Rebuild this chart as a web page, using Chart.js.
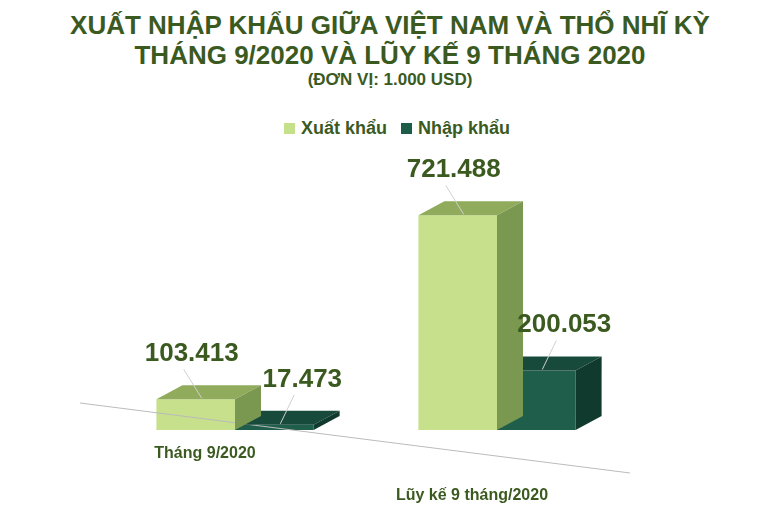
<!DOCTYPE html>
<html><head><meta charset="utf-8">
<script src="https://cdn.jsdelivr.net/npm/chart.js@4/dist/chart.umd.min.js"></script>
<style>
body{margin:0;background:#fff;font-family:"Liberation Sans",Arial,sans-serif}
#wrap{position:relative;width:780px;height:516px}
#t{position:absolute;top:10px;left:0;width:780px;text-align:center;color:#3b5a1f;font-weight:bold;font-size:26px;line-height:30px}
#t div.s{font-size:17px;line-height:20px}
#lg{position:absolute;top:118px;left:0;width:780px;text-align:center;color:#3b5a1f;font-weight:bold;font-size:18px}
#lg span.b{display:inline-block;width:11px;height:11px;margin:0 6px 0 14px}
canvas{position:absolute;top:0;left:0}
</style></head><body>
<div id="wrap">
<div id="t">XUẤT NHẬP KHẨU GIỮA VIỆT NAM VÀ THỔ NHĨ KỲ<br>THÁNG 9/2020 VÀ LŨY KẾ 9 THÁNG 2020<div class="s">(ĐƠN VỊ: 1.000 USD)</div></div>
<div id="lg"><span class="b" style="background:#c5e08a"></span>Xuất khẩu<span class="b" style="background:#1e5c4a"></span>Nhập khẩu</div>
<canvas id="c" width="780" height="516"></canvas>
</div>
<script>
const categories=["Tháng 9/2020","Lũy kế 9 tháng/2020"];
const exportVals=[103413,721488];
const importVals=[17473,200053];
const seriesNames=["Xuất khẩu","Nhập khẩu"];
const fmt=v=>v.toLocaleString('de-DE');
const faces=[{front:'#c6e08b',top:'#8fab5b',side:'#7b9850'},{front:'#1f5e4b',top:'#184a3b',side:'#113a2e'}];
const DX=26,DY=-14;
const threeD={id:'threeD',afterDatasetsDraw(ch){
 const g=ch.ctx;
 const xs=ch.scales.x;
 g.save();
 g.strokeStyle='#bbb';g.lineWidth=1;g.beginPath();g.moveTo(80,403);g.lineTo(630,473);g.stroke();
 [1,0].forEach(di=>{
  ch.getDatasetMeta(di).data.forEach((b,i)=>{
   const l=b.x-b.width/2,r=b.x+b.width/2,t=b.y,bt=b.base;
   const f=faces[di];
   g.fillStyle=f.top;g.beginPath();g.moveTo(l,t);g.lineTo(l+DX,t+DY);g.lineTo(r+DX,t+DY);g.lineTo(r,t);g.closePath();g.fill();
   g.fillStyle=f.side;g.beginPath();g.moveTo(r,t);g.lineTo(r+DX,t+DY);g.lineTo(r+DX,bt+DY);g.lineTo(r,bt);g.closePath();g.fill();
  });
 });
 g.font='bold 26px "Liberation Sans",Arial';g.textAlign='center';g.fillStyle='#3b5a1f';
 [0,1].forEach(di=>{
  ch.getDatasetMeta(di).data.forEach((b,i)=>{
   const v=ch.data.datasets[di].data[i];
   const lx=b.x-4+(di?32:0), ly=b.y+DY-24;
   g.fillText(fmt(v),lx,ly);
   g.strokeStyle='#d0d0d0';g.beginPath();g.moveTo(lx-8,ly+8);g.lineTo(b.x+6,b.y+DY/2+6);g.stroke();
  });
 });
 g.font='bold 16px "Liberation Sans",Arial';g.fillStyle='#3b5a1f';
 const yo=[458,500];
 categories.forEach((c,i)=>g.fillText(c,xs.getPixelForValue(i)-30+i*5,yo[i]));
 g.restore();
}};
new Chart(document.getElementById('c'),{type:'bar',
 data:{labels:categories,datasets:[
  {label:seriesNames[0],data:exportVals,backgroundColor:faces[0].front},
  {label:seriesNames[1],data:importVals,backgroundColor:faces[1].front}]},
 options:{responsive:false,animation:false,
  layout:{padding:{left:104,right:152,top:192,bottom:86}},
  plugins:{legend:{display:false},tooltip:{enabled:false}},
  datasets:{bar:{categoryPercentage:0.6,barPercentage:1}},
  scales:{x:{display:false},y:{display:false,min:0,max:800000}}},
 plugins:[threeD]});
</script></body></html>
